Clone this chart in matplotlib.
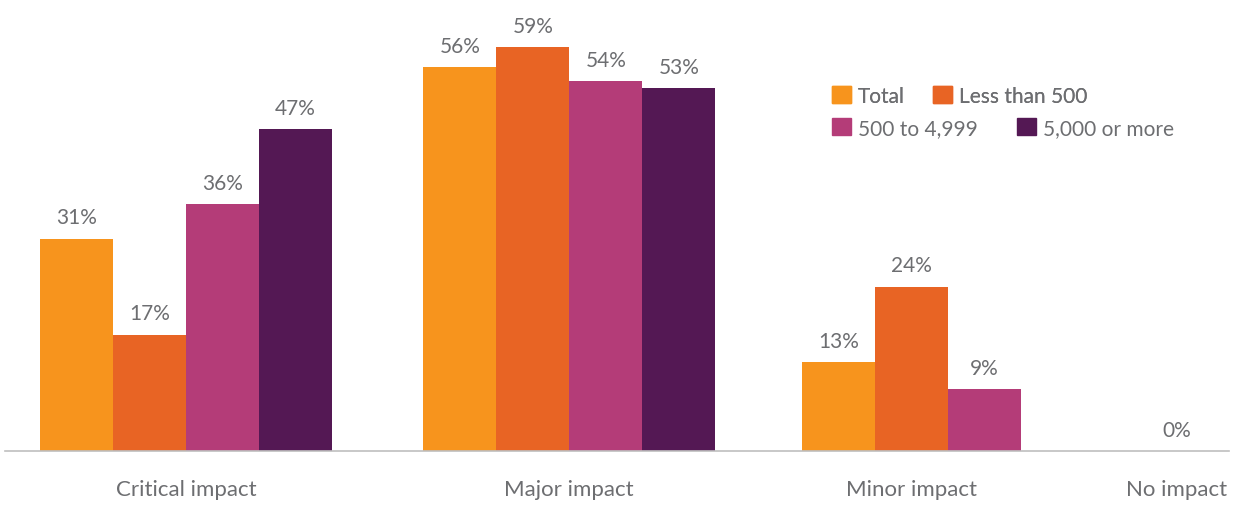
import numpy as np
import matplotlib.pyplot as plt
from matplotlib.patches import Patch

plt.rcParams['font.family'] = ['Lato', 'DejaVu Sans']

categories = ['Critical impact', 'Major impact', 'Minor impact', 'No impact']
series = ['Total', 'Less than 500', '500 to 4,999', '5,000 or more']
# None = no bar for that series in the group
values = {
    'Total':         [31, 56, 13, 0],
    'Less than 500': [17, 59, 24, None],
    '500 to 4,999':  [36, 54, 9, None],
    '5,000 or more': [47, 53, None, None],
}
colors = ['#F7941D', '#E86424', '#B43C78', '#541854']
text_grey = '#6D6E71'

# space left after each group, in bar widths
gaps = [1.25, 1.19, 1.63]

fig = plt.figure(figsize=(12.33, 5.06), dpi=100)
ax = fig.add_axes([5 / 1233, 54 / 506, 1224 / 1233, 452 / 506])

start = 0.0
centers = []
for g, cat in enumerate(categories):
    present = [s for s in series if values[s][g] is not None]
    for k, s in enumerate(present):
        v = values[s][g]
        x = start + k + 0.5
        ax.bar(x, v, width=1.0, color=colors[series.index(s)], linewidth=0)
        ax.annotate('%d%%' % v, (x, v), xytext=(0, 11), textcoords='offset points',
                    ha='center', va='baseline', fontsize=15, color=text_grey)
    centers.append(start + len(present) / 2)
    start += len(present)
    if g < len(gaps):
        start += gaps[g]

ax.set_xlim((5 - 40) / 73, (1229 - 40) / 73)
ax.set_ylim(0, 452 / 6.85)
ax.set_xticks(centers)
ax.set_xticklabels(categories, fontsize=16, color=text_grey)
ax.tick_params(axis='x', length=0, pad=20)
ax.set_yticks([])
for side in ['top', 'right', 'left']:
    ax.spines[side].set_visible(False)
ax.spines['bottom'].set_color('#BFBFBF')
ax.spines['bottom'].set_linewidth(1.2)

handles = [Patch(color=c, label=s) for c, s in zip(colors, series)]
leg_kw = dict(loc='upper left', ncol=2, frameon=False, fontsize=15,
              handlelength=0.9, handleheight=0.9, handletextpad=0.35,
              columnspacing=1.35, borderpad=0, borderaxespad=0, labelcolor=text_grey)
leg1 = fig.legend(handles=handles[:2], bbox_to_anchor=(832 / 1233, 1 - 87 / 506), **leg_kw)
fig.add_artist(leg1)
fig.legend(handles=handles[2:], bbox_to_anchor=(832 / 1233, 1 - 119 / 506),
           **dict(leg_kw, columnspacing=1.9))

fig.savefig('out.png', dpi=100)
